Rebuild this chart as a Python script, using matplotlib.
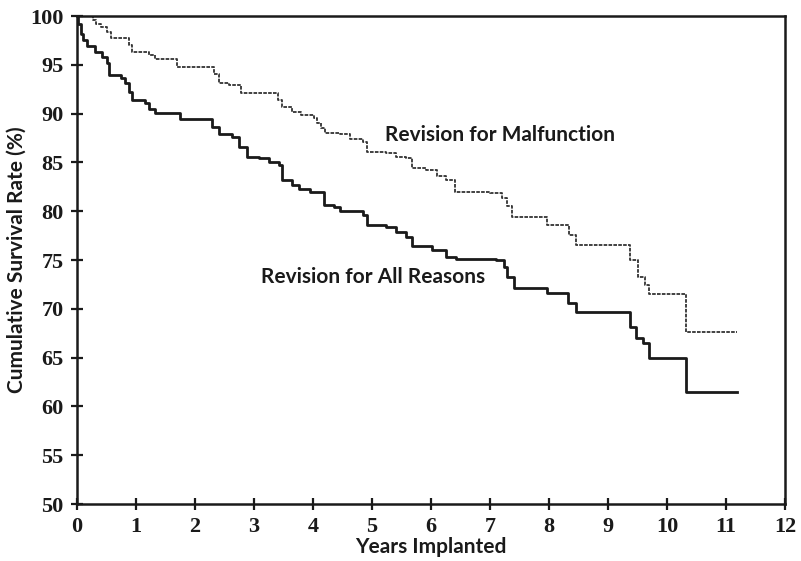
import matplotlib
matplotlib.use("Agg")
import matplotlib.pyplot as plt

# Revision for All Reasons (solid)
all_t = [0, 0.02, 0.06, 0.10, 0.17, 0.30, 0.42, 0.50, 0.55, 0.74, 0.82, 0.88, 0.94,
         1.16, 1.22, 1.33, 1.74, 2.28, 2.40, 2.63, 2.74, 2.88, 3.08, 3.26, 3.42, 3.48,
         3.64, 3.76, 3.95, 4.18, 4.36, 4.45, 4.84, 4.92, 5.24, 5.40, 5.58, 5.68, 6.02,
         6.26, 6.42, 7.10, 7.24, 7.28, 7.40, 7.96, 8.32, 8.45, 9.37, 9.48, 9.60, 9.69,
         10.33, 11.18]
all_s = [100, 99.2, 98.2, 97.5, 96.9, 96.3, 95.8, 95.2, 94.0, 93.6, 93.1, 92.2, 91.4,
         91.1, 90.5, 90.1, 89.4, 88.6, 87.9, 87.6, 86.6, 85.6, 85.4, 85.0, 84.7, 83.2,
         82.7, 82.3, 82.0, 80.6, 80.4, 80.0, 79.6, 78.6, 78.4, 77.9, 77.4, 76.4, 76.0,
         75.3, 75.1, 75.0, 74.3, 73.3, 72.1, 71.6, 70.6, 69.7, 68.1, 67.0, 66.5, 65.0,
         61.5, 61.5]

# Revision for Malfunction (dotted)
mal_t = [0, 0.27, 0.32, 0.40, 0.50, 0.57, 0.88, 0.93, 1.22, 1.33, 1.70, 2.32, 2.40,
         2.58, 2.78, 3.40, 3.47, 3.64, 3.80, 4.02, 4.06, 4.14, 4.20, 4.46, 4.62, 4.84,
         4.92, 5.24, 5.40, 5.58, 5.68, 5.92, 6.10, 6.26, 6.40, 7.00, 7.20, 7.28, 7.38,
         7.96, 8.34, 8.46, 9.37, 9.50, 9.62, 9.69, 10.33, 11.18]
mal_s = [100, 99.6, 99.2, 98.9, 98.4, 97.7, 97.0, 96.3, 96.0, 95.6, 94.8, 94.1, 93.1,
         92.9, 92.1, 91.4, 90.7, 90.2, 89.9, 89.5, 89.0, 88.5, 88.0, 87.9, 87.4, 87.1,
         86.1, 86.0, 85.6, 85.5, 84.4, 84.2, 83.6, 83.2, 82.0, 81.9, 81.4, 80.5, 79.4,
         78.6, 77.6, 76.5, 75.0, 73.3, 72.4, 71.5, 67.6, 67.6]

x_ticks = list(range(0, 13))
y_ticks = list(range(50, 101, 5))

fig = plt.figure(figsize=(8.01, 5.61), dpi=100)
ax = fig.add_axes([77/801, 1-504/561, (785-77)/801, (504-16)/561])

ax.step(mal_t, mal_s, where='post', color='#333333', lw=1.3, linestyle=(0, (2, 0.7)))
ax.step(all_t, all_s, where='post', color='#1a1a1a', lw=2.0)

ax.set_xlim(0, 12)
ax.set_ylim(50, 100)
ax.set_xticks(x_ticks)
ax.set_yticks(y_ticks)
for s in ax.spines.values():
    s.set_linewidth(1.8)
    s.set_color('#1a1a1a')
ax.tick_params(direction='inout', length=9, width=1.6, color='#1a1a1a', pad=5)
for lab in ax.get_xticklabels() + ax.get_yticklabels():
    lab.set_fontfamily('Liberation Serif')
    lab.set_fontweight('bold')
    lab.set_fontsize(16)
    lab.set_color('#1a1a1a')

ax.set_xlabel('Years Implanted', fontsize=15, fontweight='bold', family='Lato',
              color='#1a1a1a', labelpad=0)
ax.set_ylabel('Cumulative Survival Rate (%)', fontsize=15, fontweight='bold', family='Lato',
              color='#1a1a1a', labelpad=3)

ax.text(5.22, 87.8, 'Revision for Malfunction', fontsize=15, fontweight='bold', family='Lato',
        color='#1a1a1a', va='center', ha='left')
ax.text(3.12, 73.3, 'Revision for All Reasons', fontsize=15, fontweight='bold', family='Lato',
        color='#1a1a1a', va='center', ha='left')

fig.savefig('out.png', dpi=100)
